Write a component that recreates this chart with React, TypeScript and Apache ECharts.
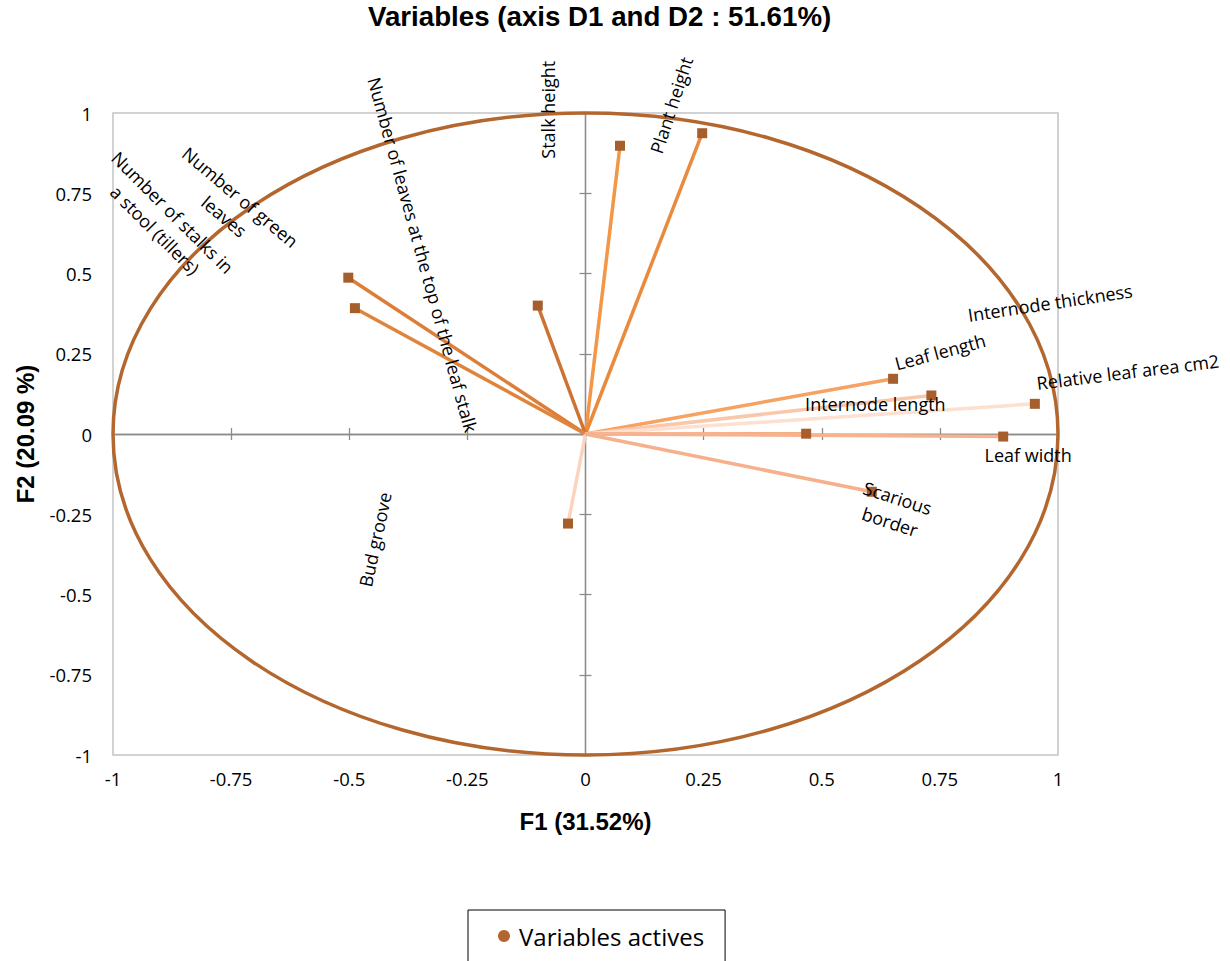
import React, { useEffect, useRef } from "react";
import * as echarts from "echarts";

// ---- data ----
const variableNames = [
  "Stalk height",
  "Plant height",
  "Number of leaves at the top of the leaf stalk",
  "Number of green\nleaves",
  "Number of stalks in\na stool (tillers)",
  "Bud groove",
  "Leaf length",
  "Internode length",
  "Relative leaf area cm2",
  "Internode thickness",
  "Leaf width",
  "Scarious\nborder",
];
const f1Values = [0.073, 0.247, -0.101, -0.502, -0.488, -0.037, 0.651, 0.732, 0.951, 0.467, 0.884, 0.606];
const f2Values = [0.898, 0.937, 0.4, 0.487, 0.392, -0.279, 0.172, 0.12, 0.094, 0.001, -0.008, -0.18];
const vectorColors = [
  "#f39646", "#e98b3e", "#cd7333", "#dd7e38", "#e0843c", "#fbd3bf",
  "#f5a262", "#f9c8ab", "#fde0d0", "#f4ae86", "#f6b38e", "#f6b08b",
];
// label placement (pixel offsets from each point and rotation in degrees)
const labelOffsets: [number, number][] = [
  [-72, -36], [-31, -28], [-115, -51], [-116, -71], [-191, -87], [-193, 16],
  [47, -27], [-56, 9], [93, -32], [244, -131], [25, 18], [22, 18],
];
const labelRotations = [90, 72, -74.6, -40, -45, 78, 15, 0, 7, 8.5, 0, -18];

const axisMin = -1;
const axisMax = 1;
const axisStep = 0.25;

const titleText = "Variables (axis D1 and D2 : 51.61%)";
const xName = "F1 (31.52%)";
const yName = "F2 (20.09 %)";
const seriesName = "Variables actives";

export default function App() {
  const ref = useRef<HTMLDivElement>(null);
  useEffect(() => {
    if (!ref.current) return;
    const chart = echarts.init(ref.current, null, { renderer: "svg" });

    const tickFont = { fontFamily: "Open Sans", fontSize: 18.5, color: "#000" };
    const centerAxis = (inside: boolean) => ({
      type: "value",
      min: axisMin,
      max: axisMax,
      interval: axisStep,
      axisLine: { show: true, onZero: true, lineStyle: { color: "#8c8c8c", width: 1.3 } },
      axisTick: { show: true, inside, length: 6, lineStyle: { color: "#8c8c8c", width: 1.3 } },
      axisLabel: { show: false },
      splitLine: { show: false },
    });

    const lineSeries = variableNames.map((n, i) => ({
      type: "line",
      name: "v" + i,
      data: [
        [0, 0],
        [f1Values[i], f2Values[i]],
      ],
      showSymbol: false,
      symbol: "none",
      silent: true,
      lineStyle: { color: vectorColors[i], width: 3.5 },
      z: 3,
    }));

    chart.setOption({
      animation: false,
      title: {
        text: titleText,
        left: 368,
        top: 2,
        padding: 0,
        textStyle: { fontFamily: "Liberation Sans", fontWeight: "bold", fontSize: 27.7, color: "#000" },
      },
      legend: {
        left: 468,
        top: 910,
        orient: "horizontal",
        padding: [14, 21, 20, 30],
        itemWidth: 20,
        itemHeight: 12,
        borderColor: "#000",
        borderWidth: 1,
        textStyle: { fontFamily: "Open Sans", fontSize: 24, color: "#000" },
        data: [{ name: seriesName, icon: "circle", itemStyle: { color: "#b5662f" } }],
      },
      grid: {
        left: 113,
        top: 113,
        width: 945,
        height: 642,
        show: true,
        borderColor: "#c3c3c3",
        borderWidth: 1.5,
        backgroundColor: "transparent",
      },
      xAxis: [
        {
          type: "value",
          min: axisMin,
          max: axisMax,
          interval: axisStep,
          position: "bottom",
          axisLine: { show: false, onZero: false },
          axisTick: { show: false },
          splitLine: { show: false },
          axisLabel: { ...tickFont, margin: 14 },
          name: xName,
          nameLocation: "middle",
          nameGap: 54,
          nameTextStyle: { fontFamily: "Liberation Sans", fontWeight: "bold", fontSize: 24, color: "#000" },
        },
        { ...centerAxis(false), position: "bottom" },
        { ...centerAxis(true), position: "bottom" },
      ],
      yAxis: [
        {
          type: "value",
          min: axisMin,
          max: axisMax,
          interval: axisStep,
          position: "left",
          axisLine: { show: false, onZero: false },
          axisTick: { show: false },
          splitLine: { show: false },
          axisLabel: { ...tickFont, margin: 21 },
          name: yName,
          nameLocation: "middle",
          nameGap: 76,
          nameTextStyle: { fontFamily: "Liberation Sans", fontWeight: "bold", fontSize: 24, color: "#000" },
        },
        { ...centerAxis(false), position: "left" },
        { ...centerAxis(true), position: "left" },
      ],
      series: [
        ...lineSeries,
        {
          type: "scatter",
          name: seriesName,
          data: f1Values.map((x, i) => [x, f2Values[i]]),
          symbol: "rect",
          symbolSize: 10,
          itemStyle: { color: "#a65e2c", opacity: 1 },
          z: 4,
        },
      ],
    });

    const o = chart.convertToPixel({ gridIndex: 0 }, [0, 0]) as number[];
    const one = chart.convertToPixel({ gridIndex: 0 }, [1, 1]) as number[];
    const rx = one[0] - o[0];
    const ry = o[1] - one[1];

    const texts = variableNames.map((name, i) => {
      const p = chart.convertToPixel({ gridIndex: 0 }, [f1Values[i], f2Values[i]]) as number[];
      return {
        type: "text",
        x: p[0] + labelOffsets[i][0],
        y: p[1] + labelOffsets[i][1],
        rotation: (labelRotations[i] * Math.PI) / 180,
        z: 10,
        silent: true,
        style: {
          text: name,
          fill: "#000",
          fontFamily: "Open Sans",
          fontSize: 18,
          lineHeight: 25,
          align: "center",
          verticalAlign: "middle",
        },
      };
    });

    chart.setOption({
      graphic: [
        {
          type: "ellipse",
          shape: { cx: o[0], cy: o[1], rx, ry },
          style: { fill: "none", stroke: "#b3672f", lineWidth: 3.5 },
          z: 1,
          silent: true,
        },
        ...texts,
      ],
    });

    return () => chart.dispose();
  }, []);

  return (
    <div
      ref={ref}
      style={{ position: "absolute", left: 0, top: 0, width: 1230, height: 961, background: "#fff" }}
    />
  );
}
